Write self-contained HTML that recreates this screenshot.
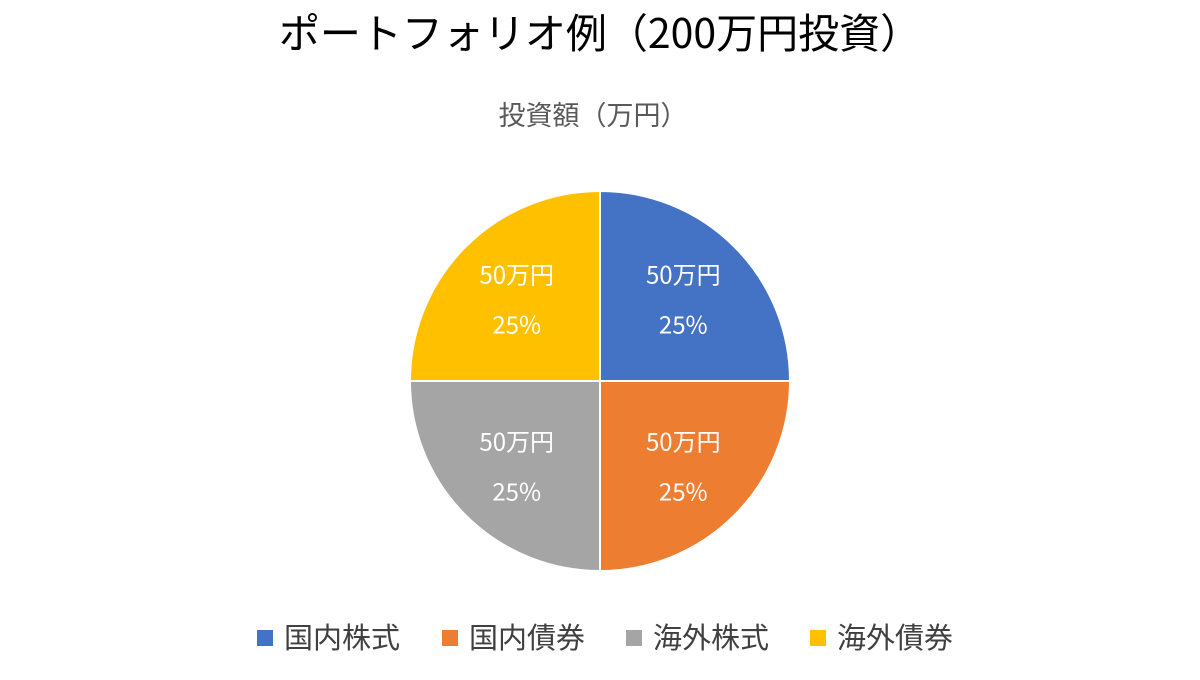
<!DOCTYPE html>
<html><head><meta charset="utf-8"><style>
body{margin:0;background:#fff;width:1200px;height:675px;overflow:hidden;font-family:"Noto Sans CJK JP","Liberation Sans",sans-serif}
</style></head><body>
<svg width="1200" height="675" xmlns="http://www.w3.org/2000/svg">
<text x="600" y="48" text-anchor="middle" font-size="41" fill="#000" font-family="Noto Sans CJK JP, Liberation Sans, sans-serif">ポートフォリオ例（200万円投資）</text>
<text x="593" y="125" text-anchor="middle" font-size="27" fill="#595959" font-family="Noto Sans CJK JP, Liberation Sans, sans-serif">投資額（万円）</text>
<g id="slices"></g><g id="labels"></g><g id="legend"></g>
</svg>
<script>
const categories=["国内株式","国内債券","海外株式","海外債券"];
const values=[50,50,50,50];
const colors=["#4472C4","#ED7D31","#A5A5A5","#FFC000"];
const ns="http://www.w3.org/2000/svg";
const cx=600,cy=381,r=190;
const total=values.reduce((a,b)=>a+b,0);
const sg=document.getElementById('slices'),lg=document.getElementById('labels'),leg=document.getElementById('legend');
const font="Noto Sans CJK JP, Liberation Sans, sans-serif";
let a0=0;
values.forEach((v,i)=>{
  const a1=a0+v/total*2*Math.PI;
  const p=(a)=>[cx+r*Math.sin(a),cy-r*Math.cos(a)];
  const [x0,y0]=p(a0),[x1,y1]=p(a1);
  const path=document.createElementNS(ns,'path');
  path.setAttribute('d',`M${cx},${cy}L${x0},${y0}A${r},${r} 0 ${a1-a0>Math.PI?1:0} 1 ${x1},${y1}Z`);
  path.setAttribute('fill',colors[i]);path.setAttribute('stroke','#fff');path.setAttribute('stroke-width','2');
  
  
  sg.appendChild(path);
  const am=(a0+a1)/2,lr=r*0.62;
  const lx=cx+lr*Math.sin(am),ly=cy-lr*Math.cos(am)+3;
  [[v+"万円",-25],[Math.round(v/total*100)+"%",25]].forEach((t,j)=>{
    const tx=document.createElementNS(ns,'text');
    tx.setAttribute('x',lx);tx.setAttribute('y',ly+t[1]+8);
    tx.setAttribute('text-anchor','middle');tx.setAttribute('font-size','24');tx.setAttribute('fill','#fff');tx.setAttribute('font-family',font);
    tx.textContent=t[0];
    
    
    lg.appendChild(tx);
  });
  a0=a1;
});
const lx0=[257,442,626,810];
categories.forEach((c,i)=>{
  const g=document.createElementNS(ns,'g');
  
  
  const rc=document.createElementNS(ns,'rect');
  rc.setAttribute('x',lx0[i]);rc.setAttribute('y',630);rc.setAttribute('width',16);rc.setAttribute('height',16);rc.setAttribute('fill',colors[i]);
  const t=document.createElementNS(ns,'text');
  t.setAttribute('x',lx0[i]+27);t.setAttribute('y',648);t.setAttribute('font-size','29');t.setAttribute('fill','#404040');t.setAttribute('font-family',font);
  t.textContent=c;
  g.appendChild(rc);g.appendChild(t);leg.appendChild(g);
});
</script>
</body></html>
